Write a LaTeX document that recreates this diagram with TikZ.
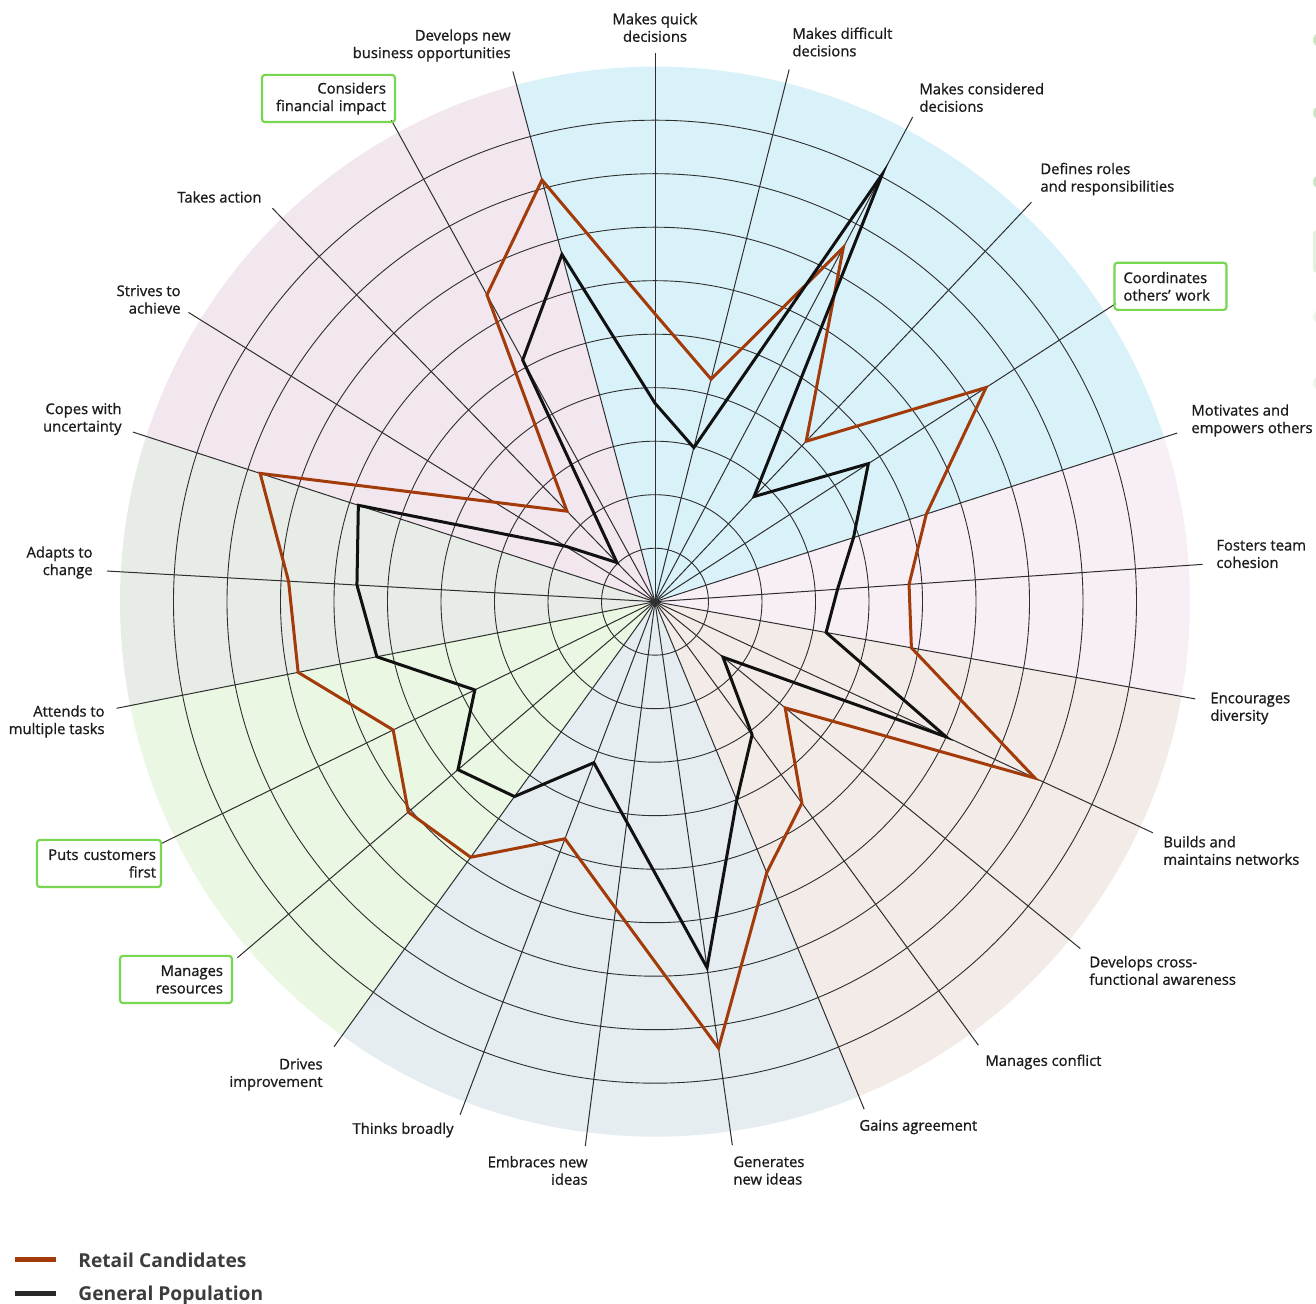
\documentclass[tikz,border=0pt]{standalone}
\usepackage{fontspec}
\setmainfont{Open Sans}
\newfontfamily\lblfont{Open Sans}[FakeBold=1]
\definecolor{secblue}{HTML}{D9F2F9}
\definecolor{secpink}{HTML}{F2E6EF}
\definecolor{secgray}{HTML}{E7ECE6}
\definecolor{secgreen}{HTML}{EAF7E3}
\definecolor{secsteel}{HTML}{E5EDF1}
\definecolor{secbeige}{HTML}{F3EBE7}
\definecolor{seclav}{HTML}{F8EFF6}
\definecolor{retailc}{HTML}{A33A0A}
\definecolor{genpopc}{HTML}{111111}
\definecolor{boxgreen}{HTML}{78D750}
\definecolor{gridc}{HTML}{2E2E2E}
\definecolor{lbltext}{HTML}{1C1C1C}
\definecolor{legtext}{HTML}{3D3D3D}
\definecolor{decoA}{HTML}{CFE2C8}
\definecolor{decoB}{HTML}{E4EFE0}
\definecolor{decoC}{HTML}{EEF5EC}
\begin{document}
\begin{tikzpicture}[x=0.5pt,y=0.5pt,
  lbl/.style={font=\lblfont\fontsize{7.4}{8.75}\selectfont, text=lbltext, inner sep=0pt},
  lblL/.style={lbl, anchor=west, align=left},
  lblR/.style={lbl, anchor=east, align=right},
  lblC/.style={lbl, anchor=center, align=center},
  gbox/.style={lbl, draw=boxgreen, line width=1.1pt, rounded corners=1.5pt, inner xsep=4.5pt, inner ysep=2.6pt, minimum height=23.6pt, anchor=center},
  gboxL/.style={gbox, align=left},
  gboxR/.style={gbox, align=right},
  ring/.style={draw=gridc, line width=0.45pt},
  spoke/.style={draw=gridc, line width=0.5pt},
  retailline/.style={draw=retailc, line width=1.5pt, line join=miter},
  genpopline/.style={draw=genpopc, line width=1.5pt, line join=miter},
  legend/.style={font=\bfseries\fontsize{9.6}{11}\selectfont, text=legtext, inner sep=0pt, anchor=west}]
\useasboundingbox (-655,-702.3) rectangle (661,601.7);
\fill[white] (-655,-702.3) rectangle (661,601.7);
\coordinate (O) at (0,0);
% sectors
\fill[secblue]  (O) -- (17.9:535)  arc[start angle=17.9,  end angle=105,   radius=535] -- cycle;
\fill[secpink]  (O) -- (105:535)   arc[start angle=105,   end angle=162,   radius=535] -- cycle;
\fill[secgray]  (O) -- (162:535)   arc[start angle=162,   end angle=191.2, radius=535] -- cycle;
\fill[secgreen] (O) -- (191.2:535) arc[start angle=191.2, end angle=234.2, radius=535] -- cycle;
\fill[secsteel] (O) -- (234.2:535) arc[start angle=234.2, end angle=292.4, radius=535] -- cycle;
\fill[secbeige] (O) -- (292.4:535) arc[start angle=292.4, end angle=349.8, radius=535] -- cycle;
\fill[seclav]   (O) -- (349.8:535) arc[start angle=349.8, end angle=377.9, radius=535] -- cycle;
% rings
\foreach \k in {1,...,9} { \draw[ring] (O) circle[radius=\k*53.5]; }
% spokes and data points: angle / retail value / general population value (in rings)
\foreach \a/\v/\w [count=\i from 0] in {
  90/5.38/3.71, 75.85/4.29/2.97, 62.0/7.50/9.05, 46.7/4.12/2.70, 32.9/7.37/4.75,
  17.9/5.33/3.90, 3.9/4.76/3.42, -10.2/4.87/3.25, -24.9/7.83/6.00, -39.2/3.14/1.64,
  -53.9/4.66/3.08, -67.6/5.48/4.01, -81.9/8.43/6.91, -97.3/5.78/4.15, -110.8/4.74/3.22,
  -125.8/5.89/4.49, -139.55/6.06/4.84, -153.9/5.45/3.75, -168.8/6.80/5.30, -183.2/6.86/5.58,
  -198/7.76/5.83, -211.8/3.53/1.97, -225.8/2.36/1.02, -241.3/6.54/5.15, -255/8.16/6.72} {
  \coordinate (e\i) at (\a:548.9);
  \coordinate (r\i) at (\a:{\v*53.5});
  \coordinate (g\i) at (\a:{\w*53.5});
  \draw[spoke] (O) -- (e\i);
}
\draw[retailline] (r0) \foreach \i in {1,...,24}{ -- (r\i)} -- cycle;
\draw[genpopline] (g0) \foreach \i in {1,...,24}{ -- (g\i)} -- cycle;
% labels
\node[lblC] (l0) at (0,574.2) {Makes quick\\decisions};
\node[lblL] (l1) at (137,559.7) {Makes difficult\\decisions};
\node[lblL] (l2) at (264,504.2) {Makes considered\\decisions};
\node[lblL] (l3) at (385,422.7) {Defines roles\\and responsibilities};
\node[gboxL, text width=47pt] (l4) at (515.5,315.4) {Coordinates\\others’ work};
\node[lblL] (l5) at (536,181.2) {Motivates and\\empowers others};
\node[lblL] (l6) at (561,47.7) {Fosters team\\cohesion};
\node[lblL] (l7) at (555,-106.8) {Encourages\\diversity};
\node[lblL] (l8) at (508,-248.8) {Builds and\\maintains networks};
\node[lblL] (l9) at (434,-368.8) {Develops cross-\\functional awareness};
\node[lblL] (l10) at (330,-460.3) {Manages conflict};
\node[lblL] (l11) at (204,-525.3) {Gains agreement};
\node[lblL] (l12) at (78,-568.8) {Generates\\new ideas};
\node[lblR] (l13) at (-67,-568.8) {Embraces new\\ideas};
\node[lblR] (l14) at (-201,-528.3) {Thinks broadly};
\node[lblR] (l15) at (-332,-472.8) {Drives\\improvement};
\node[gboxR, text width=47pt] (l16) at (-479,-377.8) {Manages\\resources};
\node[gboxR, text width=57pt, inner xsep=2.5pt] (l17) at (-556,-261.8) {Puts customers\\first};
\node[lblR] (l18) at (-550,-119.8) {Attends to\\multiple tasks};
\node[lblR] (l19) at (-562,39.2) {Adapts to\\change};
\node[lblR] (l20) at (-533,182.7) {Copes with\\uncertainty};
\node[lblR] (l21) at (-474,302.2) {Strives to\\achieve};
\node[lblR] (l22) at (-393,404.7) {Takes action};
\node[gboxR, text width=57.5pt] (l23) at (-326.5,503.2) {Considers\\financial impact};
\node[lblR] (l24) at (-144,556.2) {Develops new\\business opportunities};
% legend
\coordinate (k1a) at (-640,-657.3); \coordinate (k1b) at (-599,-657.3);
\coordinate (k2a) at (-640,-691.3); \coordinate (k2b) at (-599,-691.3);
\draw[draw=retailc, line width=2.5pt] (k1a) -- (k1b);
\draw[draw=genpopc!90!white, line width=2.5pt] (k2a) -- (k2b);
\node[legend] (leg1) at (-577,-658.3) {Retail Candidates};
\node[legend] (leg2) at (-577,-694.3) {General Population};
% cropped decorations at right edge
\fill[decoA] (665,561.7) circle[radius=7];
\fill[decoA] (665,488.7) circle[radius=7];
\fill[decoA] (665,419.7) circle[radius=7];
\fill[decoB, rounded corners=2pt] (658,371.7) rectangle (690,328.7);
\fill[decoC] (665,284.7) circle[radius=7];
\fill[decoC] (665,218.7) circle[radius=7];
\end{tikzpicture}
\end{document}
